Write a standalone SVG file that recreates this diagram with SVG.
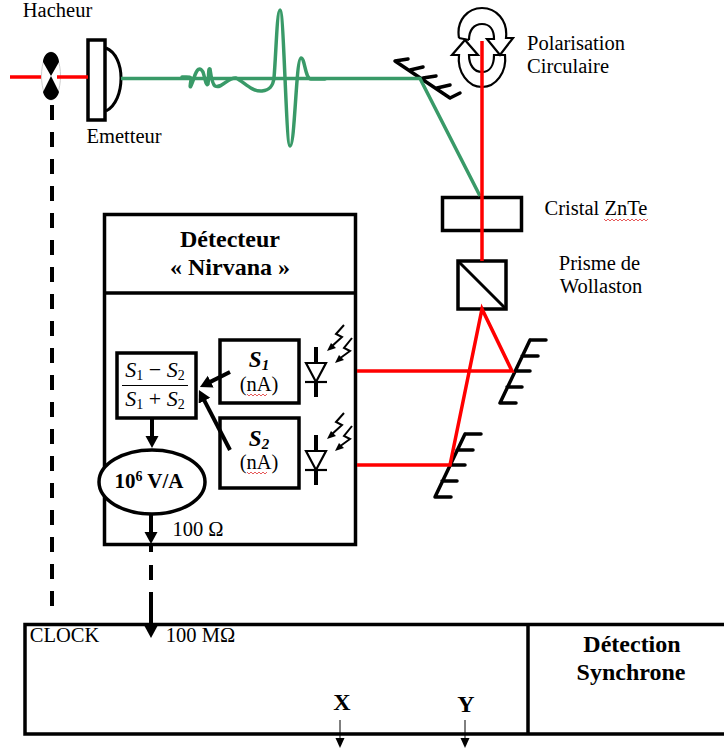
<svg xmlns="http://www.w3.org/2000/svg" width="724" height="754" viewBox="0 0 724 754">
<style>
text{font-family:"Liberation Serif","Times New Roman",serif;fill:#000;text-anchor:middle}
.l{font-size:20.500px}
.b{font-size:24px;font-weight:bold}
.box{fill:#fff;stroke:#000;stroke-width:3.500}
.red{fill:none;stroke:#f00;stroke-width:3.500}
.grn{fill:none;stroke:#399a68;stroke-width:3.500}
.k{fill:none;stroke:#000;stroke-width:3.500;stroke-linecap:round}
.a{fill:none;stroke:#000;stroke-width:4}
.i{font-style:italic;font-weight:bold}
.wig{fill:none;stroke:#e03030;stroke-width:.8}
</style>
<defs>
<marker id="ah" markerUnits="userSpaceOnUse" markerWidth="14" markerHeight="14" refX="1" refY="6.500" orient="auto"><path d="M0 0L12 6.500L0 13z" fill="#000"/></marker>
<marker id="as" markerUnits="userSpaceOnUse" markerWidth="12" markerHeight="10" refX="1" refY="4.500" orient="auto"><path d="M0 0L10 4.500L0 9z" fill="#000"/></marker>
<g id="diode"><path d="M0 -19V-3M0 16V31" fill="none" stroke="#000" stroke-width="4"/><path d="M-10 -3H10L0 16z" fill="#fff" stroke="#000" stroke-width="2.200"/><path d="M-11 16H11" stroke="#000" stroke-width="2.200"/><path d="M28 -41L20 -32L26 -29L15 -19M36 -28L28 -18L34 -15L23 -7" fill="none" stroke="#000" stroke-width="2"/><path d="M11 -15L20 -18L15 -23zM19 -3L28 -6L23 -11z" fill="#000"/></g>
</defs>
<g id="hacheur">
<ellipse cx="51" cy="76" rx="9.500" ry="24" fill="#fff" stroke="#ccc" stroke-width="1"/>
<path d="M51 52C56 52 59 58 59 62L51 76L43 62C43 58 46 52 51 52zM51 76L59 92C58 96 55 100 51 100C47 100 44 96 43 92z" fill="#000"/>
<text class="l" x="57.500" y="17">Hacheur</text>
</g>
<g id="emetteur">
<path d="M106 48C116 52 121 65 121 78C121 92 116 106 106 111" fill="#fff" stroke="#000" stroke-width="3"/>
<rect class="box" x="88" y="40" width="17" height="80"/>
<text class="l" x="124" y="143">Emetteur</text>
</g>
<g id="miroir1">
<path class="k" d="M395 61L450 98M395 61L408 59M410 70L423 67M423 78L436 76M437 88L450 85M450 98L460 93"/>
</g>
<g id="polarisation">
<path d="M459 38C456 20 468 8 482 8C496 8 508 20 506 38H513L500 55L487 39H494C494 30 490 24 482 24C474 24 469 30 469 40M459 38L469 40" fill="none" stroke="#000" stroke-width="2.200"/>
<path d="M459 55H452L465 40L478 55H469C469 65 474 72 482 72C490 72 494 65 494 55H505C507 72 496 87 482 87C468 87 457 72 459 55z" fill="none" stroke="#000" stroke-width="2.200"/>
<text class="l" x="576" y="50">Polarisation</text>
<text class="l" x="568" y="73">Circulaire</text>
</g>
<g id="cristal">
<rect x="442.500" y="197.500" width="79" height="33" fill="none" stroke="#000" stroke-width="3.500"/>
<text class="l" x="596" y="215">Cristal ZnTe</text>
<path class="wig" d="M604 219l2 2l2-2l2 2l2-2l2 2l2-2l2 2l2-2l2 2l2-2l2 2l2-2l2 2l2-2l2 2l2-2l2 2l2-2l2 2l2-2l2 2l2-2"/>
</g>
<g id="prisme">
<rect class="box" x="458" y="261" width="48" height="48"/>
<path d="M458 261L506 309" stroke="#000" stroke-width="3"/>
<text class="l" x="599.500" y="270">Prisme de</text>
<text class="l" x="601" y="293">Wollaston</text>
</g>
<g id="miroir2"><path class="k" d="M530 340L500 403M530 340H546M522 356H538M515 371H530M507 387H522M500 403H516"/></g>
<g id="miroir3"><path class="k" d="M465 434L435 497M465 434H481M457 450H473M450 465H465M442 481H457M435 497H451"/></g>
<g id="detecteur">
<rect x="104.500" y="214.500" width="251" height="330" fill="none" stroke="#000" stroke-width="3.500"/>
<path d="M104 293H356" stroke="#000" stroke-width="3.500"/>
<text class="b" x="230" y="247">Détecteur</text>
<text class="b" x="230" y="275">« Nirvana »</text>
<text class="l" x="198" y="536">100 Ω</text>
</g>
<g id="s1">
<rect class="box" x="220" y="340" width="79" height="63"/>
<text x="259" y="367" font-size="23" class="i">S<tspan font-size="15" dy="3">1</tspan></text>
<text class="l" x="259" y="391">(nA)</text>
<path class="wig" d="M247 394l2 2l2-2l2 2l2-2l2 2l2-2l2 2l2-2l2 2l2-2"/>
<use href="#diode" x="316" y="366"/>
</g>
<g id="s2">
<rect class="box" x="220" y="418" width="79" height="70"/>
<text x="259" y="446" font-size="23" class="i">S<tspan font-size="15" dy="3">2</tspan></text>
<text class="l" x="259" y="469">(nA)</text>
<path class="wig" d="M247 472l2 2l2-2l2 2l2-2l2 2l2-2l2 2l2-2l2 2l2-2"/>
<use href="#diode" x="316" y="454"/>
</g>
<g id="fraction">
<rect class="box" x="117" y="353" width="79" height="65"/>
<path d="M122 385.500H188" stroke="#000" stroke-width="1.200"/>
<text x="155" y="377" font-size="22"><tspan font-style="italic">S</tspan><tspan font-size="14" dy="3">1</tspan><tspan dy="-3"> − </tspan><tspan font-style="italic">S</tspan><tspan font-size="14" dy="3">2</tspan></text>
<text x="155" y="406" font-size="22"><tspan font-style="italic">S</tspan><tspan font-size="14" dy="3">1</tspan><tspan dy="-3"> + </tspan><tspan font-style="italic">S</tspan><tspan font-size="14" dy="3">2</tspan></text>
</g>
<g id="ampli">
<ellipse cx="152" cy="482" rx="53" ry="32" fill="#fff" stroke="#000" stroke-width="3.500"/>
<text x="149" y="488" font-size="21" font-weight="bold">10<tspan font-size="14" dy="-7">6</tspan><tspan dy="7"> V/A</tspan></text>
</g>
<g id="detection">
<path d="M725 624.500H25V734H725M528 624V734" fill="none" stroke="#000" stroke-width="3.500"/>
<text class="l" x="64.500" y="642">CLOCK</text>
<text class="l" x="200.500" y="642">100 MΩ</text>
<text class="b" x="632" y="652">Détection</text>
<text class="b" x="631" y="680">Synchrone</text>
<text class="b" x="342" y="710">X</text>
<text class="b" x="466" y="712">Y</text>
</g>
<g id="connectors">
<path class="red" d="M10 77H41M57 77H88"/>
<path class="grn" d="M121 78.500H420L480 196"/>
<path class="grn" stroke-linejoin="round" stroke-linecap="round" d="M182 77C187 77 192 76 191 80C189 92 191 86 194 78C197 68 200 67 203 72C205 78 206 87 208 84C209 76 208 68 210 69C211 76 212 84 215 86C222 89 228 77 236 78C244 82 252 92 262 91C270 90 273 86 274 78C276 55 277 10 280 10C284 10 286 146 290 146C295 146 296 58 301 58C305 58 305 79 311 79H325"/>
<path class="red" d="M482 41V261"/>
<path class="red" d="M357 371H512L482 309L450 465H357"/>
<path class="a" stroke-dasharray="15 12" d="M52 105V616"/>
<path class="a" marker-end="url(#ah)" d="M151 514V533"/>
<path class="a" d="M151 544V552M151 565V580"/>
<path class="a" marker-end="url(#ah)" d="M151 592V627"/>
<path class="a" marker-end="url(#ah)" d="M152 418V437"/>
<path class="a" marker-end="url(#ah)" d="M230 372L209.800 382.100"/>
<path class="a" marker-end="url(#ah)" d="M230 450L204 399.800"/>
<path fill="none" stroke="#000" marker-end="url(#as)" d="M340 720V739"/>
<path fill="none" stroke="#000" marker-end="url(#as)" d="M465 720V739"/>
</g>
</svg>
